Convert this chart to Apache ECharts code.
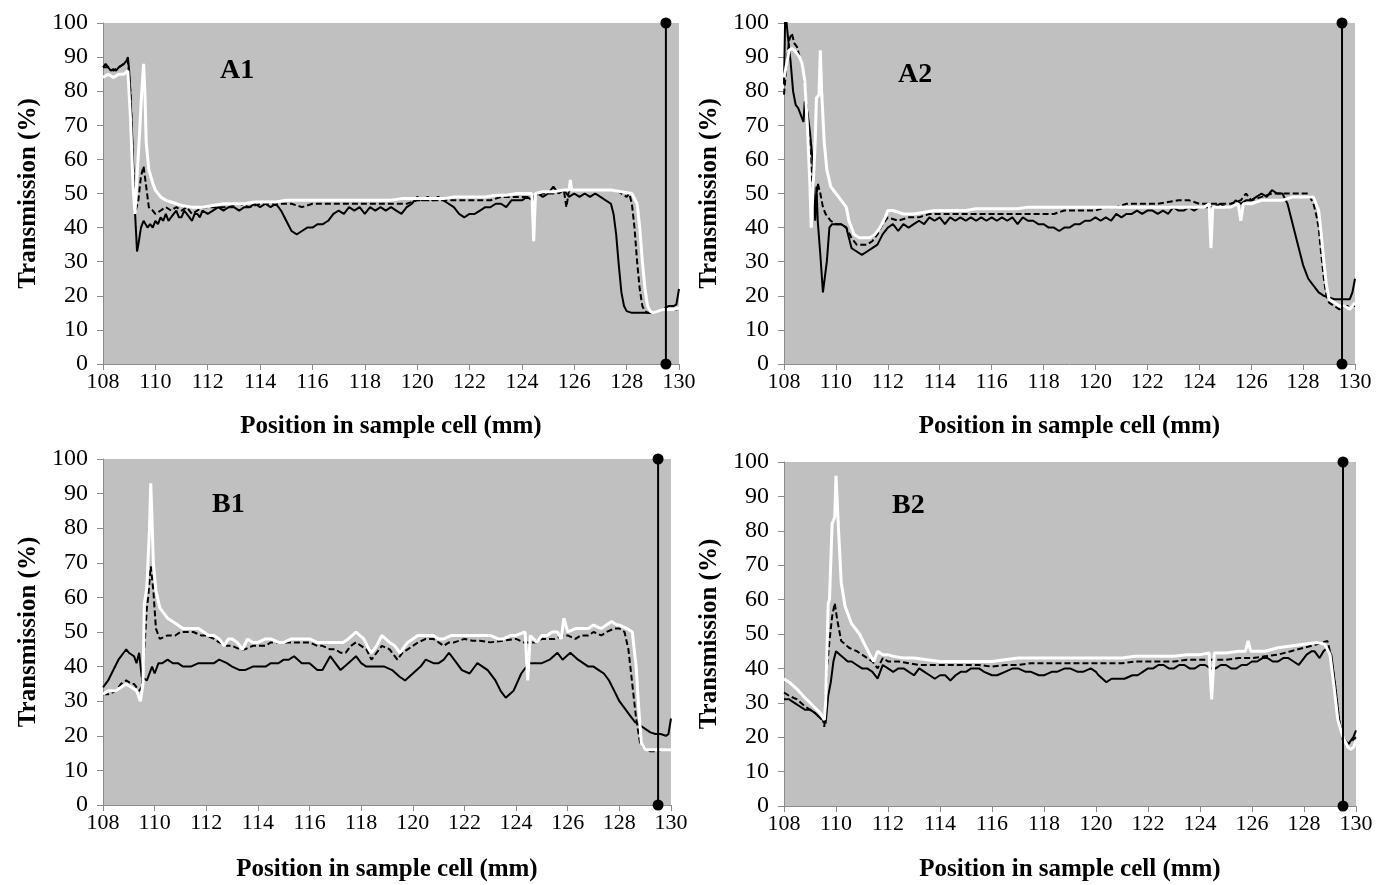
<!DOCTYPE html>
<html>
<head>
<meta charset="utf-8">
<script src="https://cdn.jsdelivr.net/npm/echarts@6/dist/echarts.min.js"></script>
<style>
html,body{margin:0;padding:0;background:#fff;}
#chart{width:1378px;height:885px;}
</style>
</head>
<body>
<div id="chart"></div>
<script>
// ---------- data: [position (mm), transmission (%)] ----------
const xTicks = [108,110,112,114,116,118,120,122,124,126,128,130];
const yTicks = [0,10,20,30,40,50,60,70,80,90,100];
const panelLabels = ["A1","A2","B1","B2"];
const markerX = 129.5;

const a1Solid = [[108.0,87],[108.1,88],[108.2,87],[108.3,86],[108.4,86.5],[108.5,86],[108.6,87],[108.7,87.5],[108.8,88],[108.9,89],[108.95,90],[109.0,86],[109.1,70],[109.2,48],[109.3,33],[109.35,35],[109.45,40],[109.55,42],[109.7,40],[109.8,41],[109.9,40],[110.0,42],[110.1,41],[110.2,43],[110.3,42],[110.4,44],[110.5,42],[110.6,43],[110.7,44],[110.8,45],[110.9,43],[111.0,43],[111.1,45],[111.2,44],[111.3,43],[111.4,42],[111.5,44],[111.6,44],[111.7,43],[111.8,45],[112.0,44],[112.2,45],[112.4,46],[112.6,45],[112.8,46],[113.0,46],[113.2,45],[113.4,46],[113.6,46],[113.8,47],[114.0,46],[114.2,47],[114.4,46],[114.6,47],[114.8,45],[115.0,42],[115.2,39],[115.4,38],[115.6,39],[115.8,40],[116.0,40],[116.2,41],[116.4,41],[116.6,42],[116.8,44],[117.0,45],[117.2,44],[117.4,46],[117.6,45],[117.8,46],[118.0,44],[118.2,46],[118.4,45],[118.6,46],[118.8,45],[119.0,46],[119.2,45],[119.4,44],[119.6,46],[119.8,47],[120.0,49],[120.2,48],[120.4,49],[120.6,48],[120.8,49],[121.0,48],[121.2,47],[121.4,46],[121.6,44],[121.8,43],[122.0,44],[122.2,44],[122.4,45],[122.6,46],[122.8,46],[123.0,47],[123.2,47],[123.4,46],[123.6,48],[123.8,48],[124.0,48],[124.2,49],[124.4,48],[124.6,50],[124.8,49],[125.0,50],[125.2,52],[125.4,50],[125.6,51],[125.8,49],[126.0,50],[126.2,49],[126.4,50],[126.6,49],[126.8,50],[127.0,49],[127.2,48],[127.4,47],[127.5,44],[127.6,38],[127.7,29],[127.8,21],[127.9,17],[128.0,15.5],[128.2,15],[128.4,15],[128.6,15],[128.8,15],[129.0,15],[129.2,15.5],[129.4,16],[129.6,17],[129.8,17],[129.9,17.5],[130.0,22]];
const a1Dashed = [[108.0,87],[108.2,87],[108.4,86],[108.6,87],[108.8,88],[108.95,89],[109.05,80],[109.15,58],[109.25,45],[109.35,48],[109.45,55],[109.55,58],[109.65,52],[109.75,46],[109.9,45],[110.0,44],[110.2,45],[110.4,46],[110.6,45],[110.8,46],[111.0,45],[111.2,46],[111.4,44],[111.6,45],[111.8,46],[112.0,46],[112.4,46],[112.8,46],[113.2,47],[113.6,46],[114.0,47],[114.4,47],[114.8,47],[115.2,47],[115.6,46],[116.0,47],[116.4,47],[116.8,47],[117.2,47],[117.6,47],[118.0,47],[118.4,47],[118.8,47],[119.2,47],[119.6,47],[120.0,48],[120.4,48],[120.8,48],[121.2,48],[121.6,48],[122.0,48],[122.4,48],[122.8,48],[123.2,49],[123.6,49],[124.0,49],[124.4,49],[124.8,50],[125.2,50],[125.6,51],[125.7,46],[125.8,51],[126.0,51],[126.4,51],[126.8,51],[127.2,51],[127.6,51],[127.8,50],[128.0,49],[128.1,50],[128.2,47],[128.3,40],[128.4,30],[128.5,22],[128.6,17],[128.7,15.5],[128.8,15],[129.0,15],[129.2,15.5],[129.4,16],[129.6,16],[129.8,16],[130.0,16]];
const a1White = [[108.0,84],[108.2,85],[108.4,84],[108.6,85],[108.8,85],[108.95,86],[109.05,72],[109.15,52],[109.22,44],[109.3,55],[109.4,68],[109.45,76],[109.5,76],[109.55,88],[109.6,80],[109.65,65],[109.75,57],[109.9,53],[110.0,51],[110.2,49],[110.4,48],[110.6,47.5],[110.8,47],[111.0,46.5],[111.4,46],[111.8,46],[112.2,46.5],[112.6,47],[113.0,47],[113.4,47],[113.8,47.5],[114.2,47.5],[114.6,47.5],[115.0,48],[115.4,48],[115.8,48],[116.2,48],[116.6,48],[117.0,48],[117.4,48],[117.8,48],[118.2,48],[118.6,48],[119.0,48],[119.4,48.5],[119.8,48.5],[120.2,48.5],[120.6,48.5],[121.0,48.5],[121.4,49],[121.8,49],[122.2,49],[122.6,49],[123.0,49.5],[123.4,49.5],[123.8,50],[124.2,50],[124.38,50],[124.45,36],[124.52,50],[124.8,50.5],[125.2,50.5],[125.6,51],[125.8,51],[125.85,54],[125.9,51],[126.2,51],[126.6,51],[127.0,51],[127.4,51],[127.8,50.5],[128.2,50],[128.4,47],[128.5,40],[128.6,30],[128.7,22],[128.8,17],[128.9,15.5],[129.0,15],[129.2,15.5],[129.4,16],[129.6,16],[129.8,16],[130.0,16.5]];

const a2Solid = [[108.0,82],[108.05,104],[108.15,96],[108.25,89],[108.35,80],[108.45,76],[108.55,75],[108.65,73],[108.75,71],[108.8,77],[108.9,74],[109.0,68],[109.1,60],[109.15,50],[109.2,42],[109.25,52],[109.3,42],[109.4,32],[109.5,21],[109.55,21],[109.65,30],[109.75,40],[109.85,41],[110.0,41],[110.2,41],[110.4,40],[110.5,37],[110.6,34],[110.8,33],[111.0,32],[111.2,33],[111.4,34],[111.6,35],[111.8,38],[112.0,40],[112.2,41],[112.4,39],[112.6,41],[112.8,40],[113.0,41],[113.2,42],[113.4,41],[113.6,43],[113.8,42],[114.0,43],[114.2,41],[114.4,43],[114.6,42],[114.8,43],[115.0,42],[115.2,43],[115.4,42],[115.6,43],[115.8,42],[116.0,43],[116.2,42],[116.4,43],[116.6,42],[116.8,43],[117.0,41],[117.2,43],[117.4,42],[117.6,42],[117.8,41],[118.0,41],[118.2,40],[118.4,40],[118.6,39],[118.8,40],[119.0,40],[119.2,41],[119.4,41],[119.6,42],[119.8,42],[120.0,43],[120.2,42],[120.4,43],[120.6,42],[120.8,44],[121.0,43],[121.2,44],[121.4,44],[121.6,45],[121.8,44],[122.0,45],[122.2,45],[122.4,44],[122.6,45],[122.8,44],[123.0,46],[123.2,45],[123.4,45],[123.6,46],[123.8,45],[124.0,46],[124.2,46],[124.4,46],[124.6,46],[124.8,47],[125.0,46],[125.2,46],[125.4,48],[125.6,47],[125.8,48],[126.0,48],[126.2,49],[126.4,50],[126.6,49],[126.8,51],[127.0,50],[127.2,50],[127.4,47],[127.6,41],[127.8,35],[128.0,29],[128.2,25],[128.4,23],[128.6,21],[128.8,20],[129.0,19.5],[129.2,19],[129.4,19],[129.6,19],[129.8,19],[129.9,21],[130.0,25]];
const a2Dashed = [[108.0,79],[108.1,88],[108.2,95],[108.3,97],[108.4,94],[108.5,93],[108.6,90],[108.7,88],[108.8,82],[108.9,73],[109.0,62],[109.1,52],[109.2,45],[109.3,53],[109.4,50],[109.5,46],[109.6,44],[109.8,42],[110.0,41],[110.2,41],[110.4,40],[110.6,37],[110.8,35],[111.0,35],[111.2,35],[111.4,36],[111.6,38],[111.8,41],[112.0,43],[112.4,42],[112.8,43],[113.2,43],[113.6,44],[114.0,44],[114.4,44],[114.8,44],[115.2,44],[115.6,44],[116.0,44],[116.4,44],[116.8,44],[117.2,44],[117.6,44],[118.0,44],[118.4,44],[118.8,45],[119.2,45],[119.6,45],[120.0,45],[120.4,46],[120.8,46],[121.2,47],[121.6,47],[122.0,47],[122.4,47],[122.8,47.5],[123.2,48],[123.6,48],[124.0,47],[124.4,47],[124.8,47],[125.2,47],[125.6,48],[125.8,50],[126.0,48],[126.4,49],[126.8,50],[127.2,50],[127.6,50],[128.0,50],[128.2,50],[128.4,47],[128.5,44],[128.6,40],[128.7,32],[128.8,25],[128.9,20],[129.0,18],[129.2,17],[129.4,16],[129.6,17],[129.8,17],[130.0,17]];
const a2White = [[108.0,84],[108.1,88],[108.2,92],[108.3,92.5],[108.4,92],[108.5,91],[108.6,90],[108.7,88],[108.8,83],[108.9,70],[109.0,52],[109.05,40],[109.1,48],[109.2,65],[109.25,78],[109.35,79],[109.4,92],[109.45,80],[109.55,65],[109.65,57],[109.8,52],[110.0,50],[110.2,48],[110.4,46],[110.5,42],[110.7,38],[110.9,37],[111.1,37],[111.3,37],[111.5,38],[111.7,40],[111.9,43],[112.0,45],[112.2,45],[112.6,44],[113.0,44],[113.4,44.5],[113.8,45],[114.2,45],[114.6,45],[115.0,45],[115.4,45.5],[115.8,45.5],[116.2,45.5],[116.6,45.5],[117.0,45.5],[117.4,46],[117.8,46],[118.2,46],[118.6,46],[119.0,46],[119.4,46],[119.8,46],[120.2,46],[120.6,46],[121.0,46],[121.4,46],[121.8,46],[122.2,46],[122.6,46],[123.0,46],[123.4,46],[123.8,46],[124.2,46],[124.38,47],[124.45,34],[124.52,46],[124.8,46],[125.2,46],[125.5,47],[125.6,42],[125.7,47],[126.0,47],[126.4,48],[126.8,48],[127.2,48],[127.6,49],[128.0,49],[128.4,49],[128.6,45],[128.7,38],[128.8,30],[128.9,23],[129.0,19],[129.2,18],[129.4,17],[129.6,17],[129.8,16],[130.0,18]];

const b1Solid = [[108.0,34],[108.2,36],[108.4,39],[108.6,42],[108.8,44],[108.9,45],[109.0,44],[109.2,43],[109.3,41],[109.4,44],[109.5,37],[109.7,36],[109.9,40],[110.0,38],[110.15,41],[110.3,41],[110.5,42],[110.7,41],[110.9,41],[111.1,40],[111.4,40],[111.7,41],[112.0,41],[112.3,41],[112.5,42],[112.8,41],[113.0,40],[113.3,39],[113.5,39],[113.8,40],[114.0,40],[114.3,40],[114.5,41],[114.8,41],[115.0,42],[115.2,42],[115.4,43],[115.7,41],[116.0,41],[116.3,39],[116.5,39],[116.8,43],[117.0,41],[117.2,39],[117.5,41],[117.8,43],[118.0,41],[118.2,40],[118.4,40],[118.6,40],[118.9,40],[119.2,39],[119.5,37],[119.7,36],[120.0,38],[120.3,40],[120.5,42],[120.8,41],[121.0,41],[121.2,42],[121.4,44],[121.6,42],[121.9,39],[122.2,38],[122.5,41],[122.7,40],[122.9,39],[123.2,36],[123.4,33],[123.6,31],[123.9,33],[124.2,38],[124.5,41],[124.8,41],[125.0,41],[125.3,42],[125.6,44],[125.8,42],[126.1,44],[126.4,42],[126.6,41],[126.8,40],[127.0,40],[127.2,39],[127.4,38],[127.6,36],[127.8,33],[128.0,30],[128.2,28],[128.4,26],[128.6,24],[128.8,23],[129.0,22],[129.2,21],[129.4,20.5],[129.6,20.5],[129.8,20],[129.9,20.5],[130.0,25]];
const b1Dashed = [[108.0,32],[108.2,32],[108.5,33],[108.7,35],[108.9,36],[109.1,35],[109.2,35],[109.4,33],[109.5,34],[109.6,45],[109.7,57],[109.75,60],[109.85,69],[109.95,62],[110.05,51],[110.2,48],[110.5,49],[110.8,49],[111.0,50],[111.3,50],[111.5,50],[111.8,49],[112.0,49],[112.3,48],[112.5,47],[112.8,46],[113.0,46],[113.3,45],[113.5,45],[113.8,46],[114.0,46],[114.3,46],[114.5,47],[115.0,47],[115.5,47],[116.0,47],[116.3,46],[116.5,46],[116.8,45],[117.0,45],[117.2,44],[117.4,44],[117.6,46],[117.8,47],[118.0,46],[118.2,45],[118.4,42],[118.6,44],[118.8,46],[119.1,45],[119.3,43],[119.4,42],[119.6,44],[119.8,45],[120.0,46],[120.2,47],[120.5,48],[120.8,48],[121.0,47],[121.2,46],[121.4,47],[121.6,47],[122.0,48],[122.3,47.5],[122.6,47.5],[123.0,47],[123.5,47.5],[124.0,48],[124.3,47],[124.5,47],[124.8,47],[125.0,48],[125.5,48],[125.8,49],[126.0,49],[126.3,48],[126.5,49],[126.8,49],[127.0,50],[127.3,49],[127.5,50],[127.8,51],[128.0,51],[128.2,50],[128.35,45],[128.5,35],[128.65,25],[128.8,18],[129.0,16],[129.2,15.5],[129.4,15.5],[129.7,16],[130.0,16]];
const b1White = [[108.0,32],[108.2,33],[108.5,33],[108.7,34],[108.9,35],[109.1,34],[109.3,33],[109.45,30],[109.5,30],[109.55,35],[109.6,58],[109.7,63],[109.8,80],[109.85,93],[109.9,82],[109.95,70],[110.05,62],[110.2,57],[110.5,54],[110.7,53],[110.9,52],[111.1,51],[111.3,51],[111.5,51],[111.7,51],[111.9,50],[112.1,49],[112.3,49],[112.5,48],[112.7,46],[112.85,48],[113.0,48],[113.2,47],[113.4,45],[113.6,48],[113.8,47],[114.0,47],[114.3,48],[114.5,48],[114.8,47],[115.0,47],[115.3,48],[115.5,48],[115.8,48],[116.0,48],[116.3,47],[116.5,47],[116.8,47],[117.0,47],[117.3,47],[117.5,48],[117.8,50],[118.1,48],[118.3,45],[118.4,44],[118.6,46],[118.8,49],[119.1,47],[119.3,46],[119.5,44],[119.8,47],[120.0,48],[120.2,49],[120.5,49],[120.8,49],[121.0,48],[121.2,48],[121.5,49],[121.8,49],[122.1,49],[122.4,49],[122.7,49],[123.0,49],[123.3,48],[123.5,48],[123.8,49],[124.0,49],[124.35,50],[124.45,36],[124.55,49],[124.8,47],[125.0,49],[125.2,49],[125.4,50],[125.6,50],[125.75,48],[125.85,54],[126.0,50],[126.3,51],[126.5,51],[126.8,51],[127.0,52],[127.3,51],[127.5,52],[127.7,53],[127.9,52],[128.0,52],[128.3,51],[128.5,50],[128.65,40],[128.75,28],[128.85,18],[129.0,16],[129.2,16],[129.4,16],[129.7,16],[130.0,16]];

const b2Solid = [[108.0,31],[108.2,31],[108.4,30],[108.6,29],[108.8,28],[109.0,28],[109.2,27],[109.4,25.5],[109.5,25],[109.6,24],[109.7,32],[109.8,36],[109.9,42],[110.0,45],[110.15,44],[110.3,43],[110.45,42],[110.6,42],[110.8,41],[111.0,40],[111.2,40],[111.4,39],[111.6,37],[111.8,41],[112.0,40],[112.2,39],[112.4,40],[112.6,40],[112.8,39],[113.0,38],[113.2,40],[113.4,39],[113.6,38],[113.8,37],[114.0,38],[114.2,38],[114.4,36.5],[114.6,38],[114.8,39],[115.0,39],[115.2,40],[115.5,40],[115.7,39],[116.0,38],[116.2,38],[116.5,39],[116.8,40],[117.0,40],[117.3,39],[117.5,39],[117.8,38],[118.0,38],[118.3,39],[118.5,39],[118.8,40],[119.0,40],[119.3,39],[119.5,39],[119.8,40],[120.0,39],[120.1,38],[120.4,36],[120.6,37],[120.8,37],[121.1,37],[121.4,38],[121.6,38],[121.8,39],[122.0,40],[122.2,40],[122.4,41],[122.6,41],[122.8,40],[123.0,40],[123.2,41],[123.4,41],[123.6,40],[123.8,40],[124.0,41],[124.2,41],[124.4,40],[124.6,40],[124.8,41],[125.0,41],[125.2,40],[125.4,40],[125.6,41],[125.8,41],[126.0,42],[126.2,42],[126.4,43],[126.6,43],[126.8,42],[127.0,42],[127.2,43],[127.4,43],[127.6,42],[127.8,41],[128.0,43],[128.1,44],[128.3,45],[128.4,45],[128.6,43],[128.75,45],[128.9,46],[129.05,44],[129.2,35],[129.35,25],[129.5,20],[129.6,19],[129.7,18],[129.8,19],[129.9,20],[130.0,22]];
const b2Dashed = [[108.0,33],[108.2,32],[108.5,31],[108.8,29],[109.0,28],[109.2,27],[109.4,25.5],[109.5,25],[109.55,23],[109.65,40],[109.75,48],[109.85,55],[109.95,59],[110.05,54],[110.2,48],[110.5,46],[110.8,45],[111.0,44],[111.2,43],[111.4,42],[111.6,40],[111.8,43],[112.0,42],[112.4,42],[112.8,41.5],[113.2,41],[113.6,41],[114.0,41],[114.5,41],[115.0,41],[115.5,41],[116.0,40.5],[116.5,41],[117.0,41],[117.5,41.5],[118.0,41.5],[118.5,41.5],[119.0,41.5],[119.5,41.5],[120.0,41.5],[120.5,41.5],[121.0,41.5],[121.5,42],[122.0,42],[122.5,42],[123.0,42],[123.5,42.5],[124.0,42.5],[124.5,42.5],[125.0,42.5],[125.5,43],[126.0,43],[126.5,43.5],[127.0,44],[127.5,45],[128.0,46],[128.5,47],[128.9,48],[129.0,45],[129.2,35],[129.35,25],[129.5,19],[129.7,18],[129.85,19],[130.0,20]];
const b2White = [[108.0,37],[108.2,36],[108.5,34],[108.8,31.5],[109.0,30],[109.2,28.5],[109.4,27],[109.55,25],[109.6,30],[109.65,45],[109.7,59],[109.75,60],[109.85,82],[109.95,84],[110.0,96],[110.1,80],[110.2,65],[110.35,58],[110.6,53],[110.9,50],[111.1,47],[111.3,44],[111.45,42],[111.6,45],[111.8,44],[112.0,44],[112.2,43.5],[112.6,43],[113.0,43],[113.5,42.5],[114.0,42],[114.5,42],[115.0,42],[115.5,42],[116.0,42],[116.5,42.5],[117.0,43],[117.5,43],[118.0,43],[118.5,43],[119.0,43],[119.5,43],[120.0,43],[120.5,43],[121.0,43],[121.5,43.5],[122.0,43.5],[122.5,43.5],[123.0,43.5],[123.5,44],[124.0,44],[124.35,44.5],[124.45,31],[124.55,44.5],[125.0,44.5],[125.5,45],[125.75,45],[125.85,48],[125.95,45],[126.5,45],[127.0,46],[127.5,46.5],[128.0,47],[128.5,47.5],[128.8,47],[129.0,44],[129.15,35],[129.3,25],[129.5,20],[129.7,17],[129.8,16.5],[129.9,17],[130.0,19]];

const panelSeries = [
  [a1Solid, a1Dashed, a1White],
  [a2Solid, a2Dashed, a2White],
  [b1Solid, b1Dashed, b1White],
  [b2Solid, b2Dashed, b2White]
];

// ---------- layout ----------
const grids = [
  {left:103, top:23, width:576, height:341},
  {left:784, top:23, width:571, height:341},
  {left:103, top:459, width:568, height:346},
  {left:784, top:462, width:572, height:344}
];
const labelPos = [
  {left:215, top:52},
  {left:893, top:56},
  {left:207, top:486},
  {left:887, top:487}
];
const xNameGap = [50, 50, 52, 51];

const FONT = "'Liberation Serif','Times New Roman',serif";
const axisGray = '#8c8c8c';

const option = {
  backgroundColor:'#ffffff',
  animation:false,
  title: panelLabels.map((t,i)=>({
    text:t, left:labelPos[i].left, top:labelPos[i].top,
    textStyle:{fontFamily:FONT, fontWeight:'bold', fontSize:28, color:'#000'}
  })),
  grid: grids.map(g=>Object.assign({show:true, backgroundColor:'#c0c0c0', borderWidth:0, containLabel:false}, g)),
  xAxis: grids.map((g,i)=>({
    type:'value', gridIndex:i, min:xTicks[0], max:xTicks[xTicks.length-1], interval:2,
    name:'Position in sample cell (mm)', nameLocation:'middle', nameGap: xNameGap[i],
    nameTextStyle:{fontFamily:FONT, fontWeight:'bold', fontSize:25, color:'#000'},
    axisLine:{show:true, lineStyle:{color:axisGray, width:1}},
    axisTick:{show:true, inside:false, length:6, lineStyle:{color:axisGray}},
    axisLabel:{fontFamily:FONT, fontSize:22, color:'#000', margin:7},
    splitLine:{show:false}
  })),
  yAxis: grids.map((g,i)=>({
    type:'value', gridIndex:i, min:yTicks[0], max:yTicks[yTicks.length-1], interval:10,
    name:'Transmission (%)', nameLocation:'middle', nameGap: 62,
    nameTextStyle:{fontFamily:FONT, fontWeight:'bold', fontSize:25, color:'#000'},
    axisLine:{show:true, lineStyle:{color:axisGray, width:1}},
    axisTick:{show:true, inside:false, length:6, lineStyle:{color:axisGray}},
    axisLabel:{fontFamily:FONT, fontSize:24, color:'#000', margin:15},
    splitLine:{show:false}
  })),
  series: []
};

panelSeries.forEach((arr,i)=>{
  option.series.push({
    type:'line', xAxisIndex:i, yAxisIndex:i, data:arr[0], showSymbol:false, symbol:'none',
    lineStyle:{color:'#000', width:2}, clip:true, z:2
  });
  option.series.push({
    type:'line', xAxisIndex:i, yAxisIndex:i, data:arr[1], showSymbol:false, symbol:'none',
    lineStyle:{color:'#000', width:2, type:[6,3]}, clip:true, z:3
  });
  option.series.push({
    type:'line', xAxisIndex:i, yAxisIndex:i, data:arr[2], showSymbol:false, symbol:'none',
    lineStyle:{color:'#fff', width:3}, clip:true, z:4
  });
  option.series.push({
    type:'line', xAxisIndex:i, yAxisIndex:i, data:[[markerX,yTicks[0]],[markerX,yTicks[yTicks.length-1]]],
    symbol:'circle', symbolSize:11, showSymbol:true, itemStyle:{color:'#000'},
    lineStyle:{color:'#000', width:2}, clip:false, z:5
  });
});

const chart = echarts.init(document.getElementById('chart'), null, {renderer:'canvas'});
chart.setOption(option);
</script>
</body>
</html>
